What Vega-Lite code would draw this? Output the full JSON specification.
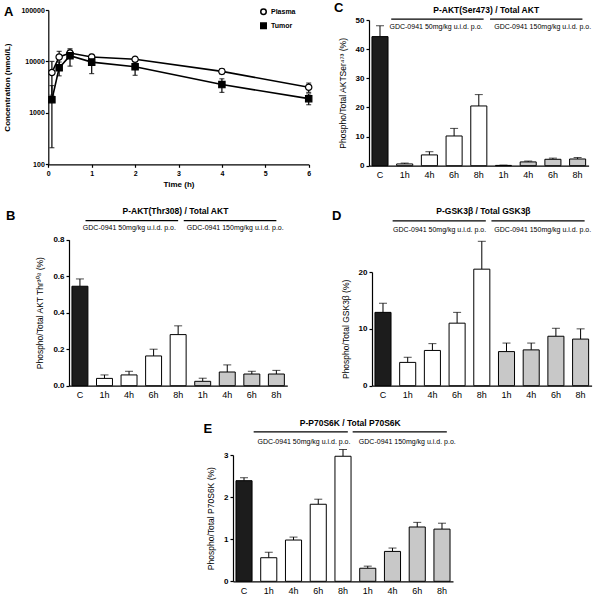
{
  "$schema": "https://vega.github.io/schema/vega-lite/v6.json",
  "padding": {"top": 2, "left": 3, "right": 2, "bottom": 0},
  "config": {
    "font": "Liberation Sans",
    "view": {"stroke": null},
    "axis": {"domainColor": "#000", "tickColor": "#000", "labelColor": "#000", "titleColor": "#000", "grid": false, "domainWidth": 1.2, "tickWidth": 1.2, "labelOverlap": false}
  },
  "datasets": {
    "A": [
      {"s": "Plasma", "t": 0.083, "m": 6100, "sd": 3900},
      {"s": "Plasma", "t": 0.25, "m": 12200, "sd": 3500},
      {"s": "Plasma", "t": 0.5, "m": 14600, "sd": 2000},
      {"s": "Plasma", "t": 1, "m": 12200, "sd": 1500},
      {"s": "Plasma", "t": 2, "m": 11000, "sd": 1200},
      {"s": "Plasma", "t": 4, "m": 6400, "sd": 800},
      {"s": "Plasma", "t": 6, "m": 3150, "sd": 650},
      {"s": "Tumor", "t": 0.083, "m": 1800, "sd": 1590},
      {"s": "Tumor", "t": 0.25, "m": 7500, "sd": 2250},
      {"s": "Tumor", "t": 0.5, "m": 12900, "sd": 4800},
      {"s": "Tumor", "t": 1, "m": 9700, "sd": 3900},
      {"s": "Tumor", "t": 2, "m": 7870, "sd": 2500},
      {"s": "Tumor", "t": 4, "m": 3550, "sd": 1050},
      {"s": "Tumor", "t": 6, "m": 1890, "sd": 450}
    ],
    "B": [
      {"cat": "C", "grp": "ctrl", "m": 0.545, "sd": 0.04},
      {"cat": "1h a", "grp": "lo", "m": 0.04, "sd": 0.019},
      {"cat": "4h a", "grp": "lo", "m": 0.059, "sd": 0.02},
      {"cat": "6h a", "grp": "lo", "m": 0.163, "sd": 0.037},
      {"cat": "8h a", "grp": "lo", "m": 0.28, "sd": 0.048},
      {"cat": "1h b", "grp": "hi", "m": 0.024, "sd": 0.017},
      {"cat": "4h b", "grp": "hi", "m": 0.075, "sd": 0.039},
      {"cat": "6h b", "grp": "hi", "m": 0.064, "sd": 0.015},
      {"cat": "8h b", "grp": "hi", "m": 0.064, "sd": 0.02}
    ],
    "C": [
      {"cat": "C", "grp": "ctrl", "m": 44.3, "sd": 3.7},
      {"cat": "1h a", "grp": "lo", "m": 0.6, "sd": 0.3},
      {"cat": "4h a", "grp": "lo", "m": 3.7, "sd": 1.1},
      {"cat": "6h a", "grp": "lo", "m": 10.2, "sd": 2.6},
      {"cat": "8h a", "grp": "lo", "m": 20.5, "sd": 3.9},
      {"cat": "1h b", "grp": "hi", "m": 0.1, "sd": 0.1},
      {"cat": "4h b", "grp": "hi", "m": 1.3, "sd": 0.3},
      {"cat": "6h b", "grp": "hi", "m": 2.2, "sd": 0.4},
      {"cat": "8h b", "grp": "hi", "m": 2.3, "sd": 0.5}
    ],
    "D": [
      {"cat": "C", "grp": "ctrl", "m": 12.9, "sd": 1.6},
      {"cat": "1h a", "grp": "lo", "m": 4.1, "sd": 0.9},
      {"cat": "4h a", "grp": "lo", "m": 6.2, "sd": 1.2},
      {"cat": "6h a", "grp": "lo", "m": 11.0, "sd": 1.9},
      {"cat": "8h a", "grp": "lo", "m": 20.5, "sd": 4.9},
      {"cat": "1h b", "grp": "hi", "m": 6.0, "sd": 1.5},
      {"cat": "4h b", "grp": "hi", "m": 6.3, "sd": 1.2},
      {"cat": "6h b", "grp": "hi", "m": 8.7, "sd": 1.4},
      {"cat": "8h b", "grp": "hi", "m": 8.2, "sd": 1.8}
    ],
    "E": [
      {"cat": "C", "grp": "ctrl", "m": 2.39, "sd": 0.07},
      {"cat": "1h a", "grp": "lo", "m": 0.56, "sd": 0.13},
      {"cat": "4h a", "grp": "lo", "m": 0.98, "sd": 0.07},
      {"cat": "6h a", "grp": "lo", "m": 1.83, "sd": 0.12},
      {"cat": "8h a", "grp": "lo", "m": 2.97, "sd": 0.16},
      {"cat": "1h b", "grp": "hi", "m": 0.31, "sd": 0.05},
      {"cat": "4h b", "grp": "hi", "m": 0.71, "sd": 0.08},
      {"cat": "6h b", "grp": "hi", "m": 1.29, "sd": 0.11},
      {"cat": "8h b", "grp": "hi", "m": 1.24, "sd": 0.14}
    ]
  },
  "vconcat": [
    {
      "hconcat": [
        {
          "width": 239.7, "height": 144.3,
          "title": {"text": "A", "anchor": "start", "frame": "bounds", "fontSize": 13, "fontWeight": "bold", "offset": -13},
          "data": {"name": "A"},
          "transform": [{"calculate": "datum.m - datum.sd", "as": "lo"}, {"calculate": "datum.m + datum.sd", "as": "hi"}],
          "encoding": {"x": {"field": "t", "type": "quantitative", "scale": {"domain": [0, 6], "nice": false, "range": [-20.7, 239.7]},
            "axis": {"values": [0, 1, 2, 3, 4, 5, 6], "title": "Time (h)", "titleFontWeight": "bold", "titleFontSize": 8, "labelFontWeight": "bold", "labelFontSize": 7, "tickSize": 3, "labelPadding": 2, "titlePadding": 4, "labelFlush": false, "labelOverlap": false}}},
          "layer": [
            {"mark": {"type": "rule", "color": "#000", "strokeWidth": 1.2},
             "encoding": {"y": {"field": "lo", "type": "quantitative", "scale": {"type": "log", "domain": [100, 100000], "nice": false, "range": [144.3, -10]},
               "axis": {"values": [100, 1000, 10000, 100000], "format": "d", "offset": 20.7, "title": "Concentration (nmol/L)", "titleFontWeight": "bold", "titleFontSize": 8, "labelFontWeight": "bold", "labelFontSize": 7, "tickSize": 3, "labelPadding": 1, "titlePadding": 9, "labelOverlap": false}},
               "y2": {"field": "hi"}}},
            {"mark": {"type": "tick", "orient": "horizontal", "color": "#000", "size": 5, "thickness": 1.2}, "encoding": {"y": {"field": "lo", "type": "quantitative"}}},
            {"mark": {"type": "tick", "orient": "horizontal", "color": "#000", "size": 5, "thickness": 1.2}, "encoding": {"y": {"field": "hi", "type": "quantitative"}}},
            {"mark": {"type": "line", "color": "#000", "strokeWidth": 1.6}, "encoding": {"y": {"field": "m", "type": "quantitative"}, "detail": {"field": "s", "type": "nominal"}}},
            {"mark": {"type": "point", "filled": true, "stroke": "#000", "strokeWidth": 1.2, "size": 40, "opacity": 1},
             "encoding": {"y": {"field": "m", "type": "quantitative"},
               "shape": {"field": "s", "type": "nominal", "scale": {"domain": ["Plasma", "Tumor"], "range": ["circle", "square"]},
                 "legend": {"title": null, "orient": "none", "legendX": 191, "legendY": -11.7, "labelFontSize": 7, "labelFontWeight": "bold", "symbolSize": 30, "rowPadding": 1, "labelOffset": 4, "padding": 0,
                   "encode": {"symbols": {"update": {"stroke": {"value": "#000"}, "strokeWidth": {"value": 1}}}}}},
               "fill": {"field": "s", "type": "nominal", "scale": {"domain": ["Plasma", "Tumor"], "range": ["#ffffff", "#000000"]},
                 "legend": {"title": null, "orient": "none", "legendX": 191, "legendY": -11.7, "labelFontSize": 7, "labelFontWeight": "bold", "symbolSize": 30, "rowPadding": 1, "labelOffset": 4, "padding": 0,
                   "encode": {"symbols": {"update": {"stroke": {"value": "#000"}, "strokeWidth": {"value": 1}}}}}}}}
          ]
        },
        {
          "width": 219.6, "height": 145.7,
          "title": {"text": "C", "anchor": "start", "frame": "bounds", "fontSize": 13, "fontWeight": "bold", "offset": -9, "dx": -4},
          "layer": [
            {"data": {"name": "C"}, "transform": [{"calculate": "datum.m + datum.sd", "as": "hi"}],
             "mark": {"type": "rule", "color": "#000", "strokeWidth": 1},
             "encoding": {
               "x": {"field": "cat", "type": "nominal", "scale": {"domain": ["C", "1h a", "4h a", "6h a", "8h a", "1h b", "4h b", "6h b", "8h b"], "paddingInner": 0.35, "paddingOuter": 0.12},
                 "axis": {"title": null, "labelExpr": "split(datum.label, ' ')[0]", "ticks": false, "labelAngle": 0, "labelFontSize": 9, "labelPadding": 5}},
               "y": {"field": "m", "type": "quantitative", "scale": {"domain": [0, 50], "nice": false},
                 "axis": {"values": [0, 10, 20, 30, 40, 50], "tickCount": 6, "labelOverlap": false, "title": "Phospho/Total AKTSer⁴⁷³ (%)", "titleFontWeight": "normal", "titleFontSize": 8.5, "labelFontWeight": "bold", "labelFontSize": 8, "tickSize": 3, "labelPadding": 2, "titlePadding": 8}},
               "y2": {"field": "hi"}}},
            {"data": {"name": "C"}, "transform": [{"calculate": "datum.m + datum.sd", "as": "hi"}],
             "mark": {"type": "tick", "color": "#000", "size": 8, "thickness": 1},
             "encoding": {"x": {"field": "cat", "type": "nominal"}, "y": {"field": "hi", "type": "quantitative"}}},
            {"data": {"name": "C"}, "mark": {"type": "bar", "stroke": "#000", "strokeWidth": 1},
             "encoding": {"x": {"field": "cat", "type": "nominal"}, "y": {"field": "m", "type": "quantitative"},
               "color": {"field": "grp", "type": "nominal", "scale": {"domain": ["ctrl", "lo", "hi"], "range": ["#1c1c1c", "#ffffff", "#c8c8c8"]}, "legend": null}}},
            {"data": {"values": [{"s": "C", "e": "8h a"}, {"s": "8h a", "e": "8h b"}]},
             "mark": {"type": "rule", "color": "#000", "strokeWidth": 1.3},
             "encoding": {"x": {"field": "s", "type": "nominal", "bandPosition": 1.2}, "x2": {"field": "e", "bandPosition": 0.8}, "y": {"datum": 50.3, "type": "quantitative"}}},
            {"data": {"values": [{"c": "8h a", "t": "P-AKT(Ser473) / Total AKT"}]},
             "mark": {"type": "text", "fontWeight": "bold", "fontSize": 8.5, "baseline": "middle"},
             "encoding": {"x": {"field": "c", "type": "nominal", "bandPosition": 0.96}, "y": {"datum": 53.4, "type": "quantitative"}, "text": {"field": "t"}}},
            {"data": {"values": [{"c": "4h a", "t": "GDC-0941 50mg/kg u.i.d. p.o."}]},
             "mark": {"type": "text", "fontSize": 7, "baseline": "middle"},
             "encoding": {"x": {"field": "c", "type": "nominal", "bandPosition": 0.91}, "y": {"datum": 47.7, "type": "quantitative"}, "text": {"field": "t"}}},
            {"data": {"values": [{"c": "4h b", "t": "GDC-0941 150mg/kg u.i.d. p.o."}]},
             "mark": {"type": "text", "fontSize": 7, "baseline": "middle"},
             "encoding": {"x": {"field": "c", "type": "nominal", "bandPosition": 1.4}, "y": {"datum": 47.7, "type": "quantitative"}, "text": {"field": "t"}}}
          ]
        }
      ],
      "spacing": 4
    },
    {
      "vconcat": [
        {
          "hconcat": [
            {
              "width": 218.3, "height": 113.7,
              "title": {"text": "B", "anchor": "start", "frame": "bounds", "fontSize": 13, "fontWeight": "bold", "offset": -16, "dx": -30},
              "layer": [
                {"data": {"name": "B"}, "transform": [{"calculate": "datum.m + datum.sd", "as": "hi"}],
                 "mark": {"type": "rule", "color": "#000", "strokeWidth": 1},
                 "encoding": {
                   "x": {"field": "cat", "type": "nominal", "scale": {"domain": ["C", "1h a", "4h a", "6h a", "8h a", "1h b", "4h b", "6h b", "8h b"], "paddingInner": 0.35, "paddingOuter": 0.12},
                     "axis": {"title": null, "labelExpr": "split(datum.label, ' ')[0]", "ticks": false, "labelAngle": 0, "labelFontSize": 9, "labelPadding": 5}},
                   "y": {"field": "m", "type": "quantitative", "scale": {"domain": [0, 0.8], "nice": false, "range": [113.7, -32.3]},
                     "axis": {"values": [0, 0.2, 0.4, 0.6, 0.8], "tickCount": 5, "labelOverlap": false, "format": ".1f", "title": "Phospho/Total AKT Thr³⁰⁸ (%)", "titleFontWeight": "normal", "titleFontSize": 8.5, "labelFontWeight": "bold", "labelFontSize": 8, "tickSize": 3, "labelPadding": 2, "titlePadding": 8}},
                   "y2": {"field": "hi"}}},
                {"data": {"name": "B"}, "transform": [{"calculate": "datum.m + datum.sd", "as": "hi"}],
                 "mark": {"type": "tick", "color": "#000", "size": 8, "thickness": 1},
                 "encoding": {"x": {"field": "cat", "type": "nominal"}, "y": {"field": "hi", "type": "quantitative"}}},
                {"data": {"name": "B"}, "mark": {"type": "bar", "stroke": "#000", "strokeWidth": 1},
                 "encoding": {"x": {"field": "cat", "type": "nominal"}, "y": {"field": "m", "type": "quantitative"},
                   "color": {"field": "grp", "type": "nominal", "scale": {"domain": ["ctrl", "lo", "hi"], "range": ["#1c1c1c", "#ffffff", "#c8c8c8"]}, "legend": null}}},
                {"data": {"values": [{"s": "C", "e": "8h a"}, {"s": "8h a", "e": "8h b"}]},
                 "mark": {"type": "rule", "color": "#000", "strokeWidth": 1.3},
                 "encoding": {"x": {"field": "s", "type": "nominal", "bandPosition": 0.85}, "x2": {"field": "e", "bandPosition": 0.5}, "y": {"datum": 0.904, "type": "quantitative"}}},
                {"data": {"values": [{"c": "8h a", "t": "P-AKT(Thr308) / Total AKT"}]},
                 "mark": {"type": "text", "fontWeight": "bold", "fontSize": 8.5, "baseline": "middle"},
                 "encoding": {"x": {"field": "c", "type": "nominal", "bandPosition": 0.33}, "y": {"datum": 0.959, "type": "quantitative"}, "text": {"field": "t"}}},
                {"data": {"values": [{"c": "4h a", "t": "GDC-0941 50mg/kg u.i.d. p.o."}]},
                 "mark": {"type": "text", "fontSize": 7, "baseline": "middle"},
                 "encoding": {"x": {"field": "c", "type": "nominal", "bandPosition": 0.52}, "y": {"datum": 0.866, "type": "quantitative"}, "text": {"field": "t"}}},
                {"data": {"values": [{"c": "4h b", "t": "GDC-0941 150mg/kg u.i.d. p.o."}]},
                 "mark": {"type": "text", "fontSize": 7, "baseline": "middle"},
                 "encoding": {"x": {"field": "c", "type": "nominal", "bandPosition": 1.0}, "y": {"datum": 0.866, "type": "quantitative"}, "text": {"field": "t"}}}
              ]
            },
            {
              "width": 219.6, "height": 113.7,
              "title": {"text": "D", "anchor": "start", "frame": "bounds", "fontSize": 13, "fontWeight": "bold", "offset": -16, "dx": -9},
              "layer": [
                {"data": {"name": "D"}, "transform": [{"calculate": "datum.m + datum.sd", "as": "hi"}],
                 "mark": {"type": "rule", "color": "#000", "strokeWidth": 1},
                 "encoding": {
                   "x": {"field": "cat", "type": "nominal", "scale": {"domain": ["C", "1h a", "4h a", "6h a", "8h a", "1h b", "4h b", "6h b", "8h b"], "paddingInner": 0.35, "paddingOuter": 0.12},
                     "axis": {"title": null, "labelExpr": "split(datum.label, ' ')[0]", "ticks": false, "labelAngle": 0, "labelFontSize": 9, "labelPadding": 5}},
                   "y": {"field": "m", "type": "quantitative", "scale": {"domain": [0, 20], "nice": false},
                     "axis": {"values": [0, 10, 20], "tickCount": 3, "labelOverlap": false, "title": "Phospho/Total GSK3β (%)", "titleFontWeight": "normal", "titleFontSize": 8.5, "labelFontWeight": "bold", "labelFontSize": 8, "tickSize": 3, "labelPadding": 2, "titlePadding": 8}},
                   "y2": {"field": "hi"}}},
                {"data": {"name": "D"}, "transform": [{"calculate": "datum.m + datum.sd", "as": "hi"}],
                 "mark": {"type": "tick", "color": "#000", "size": 8, "thickness": 1},
                 "encoding": {"x": {"field": "cat", "type": "nominal"}, "y": {"field": "hi", "type": "quantitative"}}},
                {"data": {"name": "D"}, "mark": {"type": "bar", "stroke": "#000", "strokeWidth": 1},
                 "encoding": {"x": {"field": "cat", "type": "nominal"}, "y": {"field": "m", "type": "quantitative"},
                   "color": {"field": "grp", "type": "nominal", "scale": {"domain": ["ctrl", "lo", "hi"], "range": ["#1c1c1c", "#ffffff", "#c8c8c8"]}, "legend": null}}},
                {"data": {"values": [{"s": "C", "e": "8h a"}, {"s": "8h a", "e": "8h b"}]},
                 "mark": {"type": "rule", "color": "#000", "strokeWidth": 1.3},
                 "encoding": {"x": {"field": "s", "type": "nominal", "bandPosition": 1.1}, "x2": {"field": "e", "bandPosition": 0.75}, "y": {"datum": 29.0, "type": "quantitative"}}},
                {"data": {"values": [{"c": "8h a", "t": "P-GSK3β / Total GSK3β"}]},
                 "mark": {"type": "text", "fontWeight": "bold", "fontSize": 8.5, "baseline": "middle"},
                 "encoding": {"x": {"field": "c", "type": "nominal", "bandPosition": 0.6}, "y": {"datum": 30.7, "type": "quantitative"}, "text": {"field": "t"}}},
                {"data": {"values": [{"c": "4h a", "t": "GDC-0941 50mg/kg u.i.d. p.o."}]},
                 "mark": {"type": "text", "fontSize": 7, "baseline": "middle"},
                 "encoding": {"x": {"field": "c", "type": "nominal", "bandPosition": 0.95}, "y": {"datum": 27.4, "type": "quantitative"}, "text": {"field": "t"}}},
                {"data": {"values": [{"c": "4h b", "t": "GDC-0941 150mg/kg u.i.d. p.o."}]},
                 "mark": {"type": "text", "fontSize": 7, "baseline": "middle"},
                 "encoding": {"x": {"field": "c", "type": "nominal", "bandPosition": 1.22}, "y": {"datum": 27.4, "type": "quantitative"}, "text": {"field": "t"}}}
              ]
            }
          ],
          "spacing": 44
        },
        {
          "hconcat": [
            {"width": 120, "height": 1, "data": {"values": []}, "mark": "point"},
            {
              "width": 220, "height": 126.3,
              "title": {"text": "E", "anchor": "start", "frame": "bounds", "fontSize": 13, "fontWeight": "bold", "offset": -17, "dx": -3},
              "layer": [
                {"data": {"name": "E"}, "transform": [{"calculate": "datum.m + datum.sd", "as": "hi"}],
                 "mark": {"type": "rule", "color": "#000", "strokeWidth": 1},
                 "encoding": {
                   "x": {"field": "cat", "type": "nominal", "scale": {"domain": ["C", "1h a", "4h a", "6h a", "8h a", "1h b", "4h b", "6h b", "8h b"], "paddingInner": 0.35, "paddingOuter": 0.12},
                     "axis": {"title": null, "labelExpr": "split(datum.label, ' ')[0]", "ticks": false, "labelAngle": 0, "labelFontSize": 9, "labelPadding": 5}},
                   "y": {"field": "m", "type": "quantitative", "scale": {"domain": [0, 3], "nice": false},
                     "axis": {"values": [0, 1, 2, 3], "tickCount": 4, "labelOverlap": false, "format": "d", "title": "Phospho/Total P70S6K (%)", "titleFontWeight": "normal", "titleFontSize": 8.5, "labelFontWeight": "bold", "labelFontSize": 8, "tickSize": 3, "labelPadding": 2, "titlePadding": 8}},
                   "y2": {"field": "hi"}}},
                {"data": {"name": "E"}, "transform": [{"calculate": "datum.m + datum.sd", "as": "hi"}],
                 "mark": {"type": "tick", "color": "#000", "size": 8, "thickness": 1},
                 "encoding": {"x": {"field": "cat", "type": "nominal"}, "y": {"field": "hi", "type": "quantitative"}}},
                {"data": {"name": "E"}, "mark": {"type": "bar", "stroke": "#000", "strokeWidth": 1},
                 "encoding": {"x": {"field": "cat", "type": "nominal"}, "y": {"field": "m", "type": "quantitative"},
                   "color": {"field": "grp", "type": "nominal", "scale": {"domain": ["ctrl", "lo", "hi"], "range": ["#1c1c1c", "#ffffff", "#c8c8c8"]}, "legend": null}}},
                {"data": {"values": [{"s": "C", "e": "8h a"}, {"s": "8h a", "e": "8h b"}]},
                 "mark": {"type": "rule", "color": "#000", "strokeWidth": 1.3},
                 "encoding": {"x": {"field": "s", "type": "nominal", "bandPosition": 1.1}, "x2": {"field": "e", "bandPosition": 0.8}, "y": {"datum": 3.55, "type": "quantitative"}}},
                {"data": {"values": [{"c": "8h a", "t": "P-P70S6K / Total P70S6K"}]},
                 "mark": {"type": "text", "fontWeight": "bold", "fontSize": 8.5, "baseline": "middle"},
                 "encoding": {"x": {"field": "c", "type": "nominal", "bandPosition": 0.95}, "y": {"datum": 3.76, "type": "quantitative"}, "text": {"field": "t"}}},
                {"data": {"values": [{"c": "4h a", "t": "GDC-0941 50mg/kg u.i.d. p.o."}]},
                 "mark": {"type": "text", "fontSize": 7, "baseline": "middle"},
                 "encoding": {"x": {"field": "c", "type": "nominal", "bandPosition": 1.15}, "y": {"datum": 3.31, "type": "quantitative"}, "text": {"field": "t"}}},
                {"data": {"values": [{"c": "4h b", "t": "GDC-0941 150mg/kg u.i.d. p.o."}]},
                 "mark": {"type": "text", "fontSize": 7, "baseline": "middle"},
                 "encoding": {"x": {"field": "c", "type": "nominal", "bandPosition": 1.42}, "y": {"datum": 3.31, "type": "quantitative"}, "text": {"field": "t"}}}
              ]
            }
          ],
          "spacing": 14
        }
      ],
      "spacing": 1
    }
  ],
  "spacing": 17
}
